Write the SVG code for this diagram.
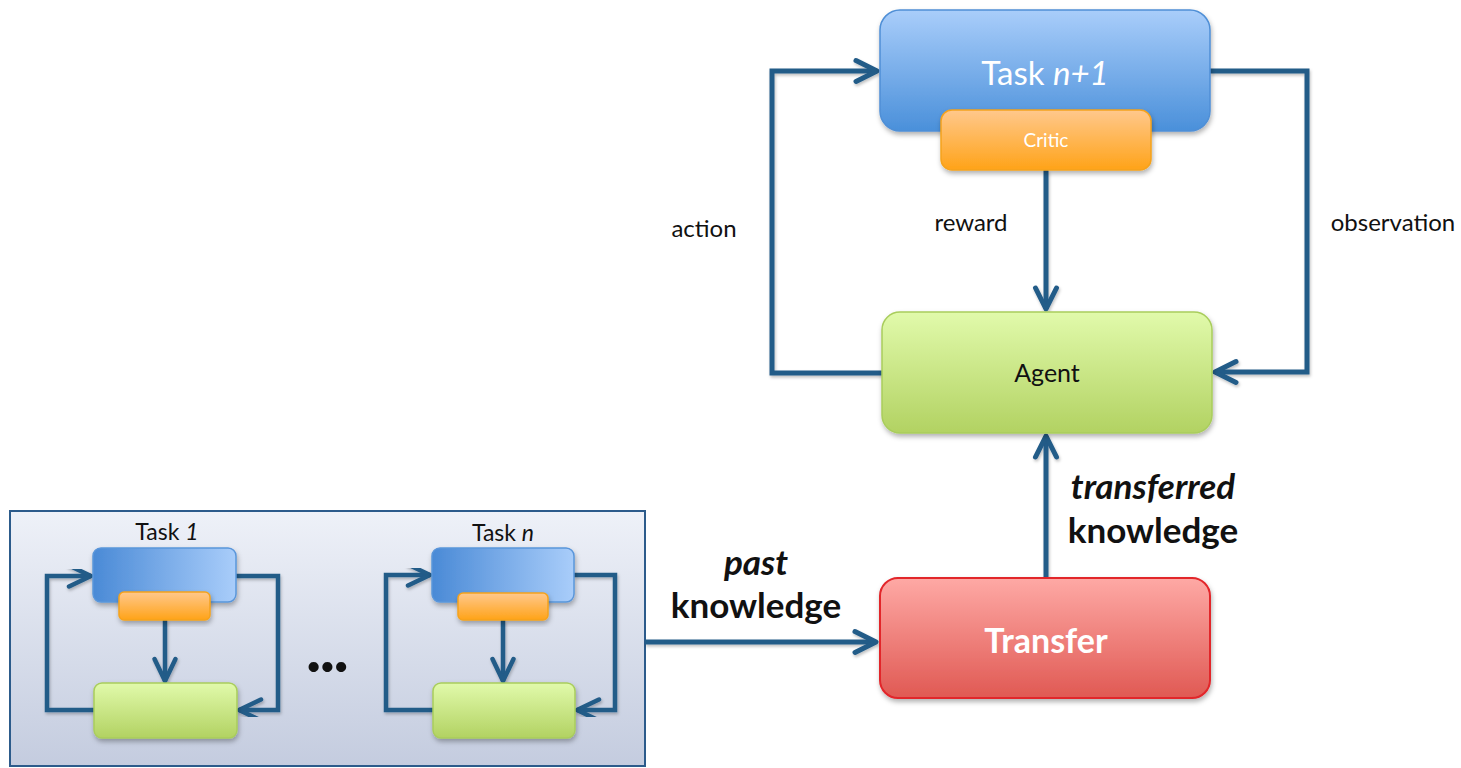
<svg xmlns="http://www.w3.org/2000/svg" width="1461" height="768" viewBox="0 0 1461 768">
  <defs>
    <linearGradient id="gBlueV" x1="0" y1="0" x2="0" y2="1">
      <stop offset="0" stop-color="#a9cdfa"/>
      <stop offset="1" stop-color="#4a90da"/>
    </linearGradient>
    <linearGradient id="gBlueH" x1="0" y1="0" x2="1" y2="0">
      <stop offset="0" stop-color="#4a8ad6"/>
      <stop offset="1" stop-color="#a9cdfa"/>
    </linearGradient>
    <linearGradient id="gOrange" x1="0" y1="0" x2="0" y2="1">
      <stop offset="0" stop-color="#ffc88c"/>
      <stop offset="1" stop-color="#ffa318"/>
    </linearGradient>
    <linearGradient id="gGreen" x1="0" y1="0" x2="0" y2="1">
      <stop offset="0" stop-color="#e1faab"/>
      <stop offset="1" stop-color="#b2d262"/>
    </linearGradient>
    <linearGradient id="gRed" x1="0" y1="0" x2="0" y2="1">
      <stop offset="0" stop-color="#fea9a5"/>
      <stop offset="1" stop-color="#e05953"/>
    </linearGradient>
    <linearGradient id="gPanel" x1="0" y1="0" x2="0" y2="1">
      <stop offset="0" stop-color="#eef1f8"/>
      <stop offset="1" stop-color="#c4ccdf"/>
    </linearGradient>
    <filter id="shadow" x="-10%" y="-10%" width="125%" height="135%">
      <feDropShadow dx="1" dy="3" stdDeviation="2.5" flood-color="#000" flood-opacity="0.3"/>
    </filter>
    <filter id="lineShadow" x="-5%" y="-5%" width="110%" height="110%">
      <feDropShadow dx="1" dy="2" stdDeviation="1.5" flood-color="#000" flood-opacity="0.25"/>
    </filter>
    <marker id="chev" markerUnits="userSpaceOnUse" viewBox="-24 -14 28 28" markerWidth="28" markerHeight="28" refX="0" refY="0" orient="auto" overflow="visible">
      <path d="M -21 -10.5 L 0 0 L -21 10.5" fill="none" stroke="#245b88" stroke-width="5" stroke-linecap="round" stroke-linejoin="round"/>
    </marker>
    <marker id="chevS" markerUnits="userSpaceOnUse" viewBox="-24 -14 28 28" markerWidth="28" markerHeight="28" refX="0" refY="0" orient="auto" overflow="visible">
      <path d="M -22 -10.5 L 0 0 L -22 10.5" fill="none" stroke="#245b88" stroke-width="4.5" stroke-linecap="round" stroke-linejoin="round"/>
    </marker>
  </defs>
  <style>
    .txt { font-family: Lato, "Open Sans", "Liberation Sans", sans-serif; fill: #111; }
    .lbl { font-size: 24px; }
    .big { font-size: 35px; font-weight: bold; }
    .wire { fill: none; stroke: #245b88; stroke-width: 5; stroke-linejoin: miter; }
    .wireS { fill: none; stroke: #245b88; stroke-width: 4.5; stroke-linejoin: miter; }
    .task { fill: url(#gBlueV); stroke: #4f8fd6; stroke-width: 1.5; }
    .taskS { fill: url(#gBlueH); stroke: #5a96da; stroke-width: 1.5; }
    .critic { fill: url(#gOrange); stroke: #f5a21c; stroke-width: 1.5; }
    .agent { fill: url(#gGreen); stroke: #a9cd5c; stroke-width: 1.5; }
  </style>

  <rect width="1461" height="768" fill="#ffffff"/>

  <!-- panel holding the earlier tasks -->
  <g id="past-tasks">
    <rect x="10" y="511" width="635" height="255" fill="url(#gPanel)" stroke="#2c5b8b" stroke-width="2"/>

    <!-- task 1 -->
    <g id="task-1">
      <text class="txt" x="167" y="540" font-size="23" text-anchor="middle">Task <tspan font-style="italic">1</tspan></text>
      <g filter="url(#lineShadow)">
        <path class="wireS" d="M 94 710 H 47 V 576 H 91" marker-end="url(#chevS)"/>
        <path class="wireS" d="M 236 576 H 278 V 710 H 239" marker-end="url(#chevS)"/>
        <path class="wireS" d="M 165 620 V 681" marker-end="url(#chevS)"/>
      </g>
      <rect class="taskS" x="93" y="548" width="143" height="54" rx="8" filter="url(#shadow)"/>
      <rect class="critic" x="119" y="592" width="91" height="28" rx="5" filter="url(#shadow)"/>
      <rect class="agent" x="94" y="683" width="143" height="55" rx="8" filter="url(#shadow)"/>
    </g>

    <text class="txt" x="327" y="672" font-size="62" font-weight="900" text-anchor="middle" letter-spacing="-1">...</text>

    <!-- task n -->
    <g id="task-n">
      <text class="txt" x="503" y="541" font-size="23" text-anchor="middle">Task <tspan font-style="italic">n</tspan></text>
      <g filter="url(#lineShadow)">
        <path class="wireS" d="M 433 710 H 386 V 575 H 430" marker-end="url(#chevS)"/>
        <path class="wireS" d="M 574 575 H 615 V 710 H 577" marker-end="url(#chevS)"/>
        <path class="wireS" d="M 503 620 V 681" marker-end="url(#chevS)"/>
      </g>
      <rect class="taskS" x="432" y="548" width="142" height="54" rx="8" filter="url(#shadow)"/>
      <rect class="critic" x="458" y="593" width="90" height="27" rx="5" filter="url(#shadow)"/>
      <rect class="agent" x="433" y="683" width="142" height="55" rx="8" filter="url(#shadow)"/>
    </g>
  </g>

  <!-- main loop connectors -->
  <g id="connectors" filter="url(#lineShadow)">
    <path class="wire" d="M 882 373 H 772 V 71 H 877" marker-end="url(#chev)"/>
    <path class="wire" d="M 1210 71 H 1307 V 372 H 1215" marker-end="url(#chev)"/>
    <path class="wire" d="M 1046 170 V 309" marker-end="url(#chev)"/>
    <path class="wire" d="M 1046 578 V 436" marker-end="url(#chev)"/>
    <path class="wire" d="M 645 642 H 876" marker-end="url(#chev)"/>
  </g>

  <!-- connector labels -->
  <g id="labels">
    <text class="txt lbl" x="704" y="237" text-anchor="middle">action</text>
    <text class="txt lbl" x="971" y="231" text-anchor="middle">reward</text>
    <text class="txt lbl" x="1393" y="231" text-anchor="middle">observation</text>
    <text class="txt big" x="756" y="575" text-anchor="middle" font-style="italic">past</text>
    <text class="txt big" x="756" y="618" text-anchor="middle">knowledge</text>
    <text class="txt big" x="1153" y="499" text-anchor="middle" font-style="italic">transferred</text>
    <text class="txt big" x="1153" y="543" text-anchor="middle">knowledge</text>
  </g>

  <!-- current task with its critic -->
  <g id="task-n1">
    <rect class="task" x="880" y="10" width="330" height="121" rx="20" filter="url(#shadow)"/>
    <text class="txt" x="1045" y="85" font-size="33" text-anchor="middle" style="fill:#ffffff">Task <tspan font-style="italic">n+1</tspan></text>
  </g>
  <g id="critic">
    <rect class="critic" x="941" y="110" width="210" height="60" rx="11" filter="url(#shadow)"/>
    <text class="txt" x="1046" y="147" font-size="19" text-anchor="middle" style="fill:#ffffff">Critic</text>
  </g>

  <!-- agent -->
  <g id="agent">
    <rect class="agent" x="882" y="312" width="330" height="121" rx="18" filter="url(#shadow)"/>
    <text class="txt" x="1047" y="382" font-size="25" text-anchor="middle">Agent</text>
  </g>

  <!-- transfer -->
  <g id="transfer">
    <rect x="880" y="578" width="330" height="120" rx="18" fill="url(#gRed)" stroke="#e2252a" stroke-width="2" filter="url(#shadow)"/>
    <text class="txt" x="1046" y="653" font-size="34" font-weight="bold" text-anchor="middle" style="fill:#ffffff">Transfer</text>
  </g>
</svg>
